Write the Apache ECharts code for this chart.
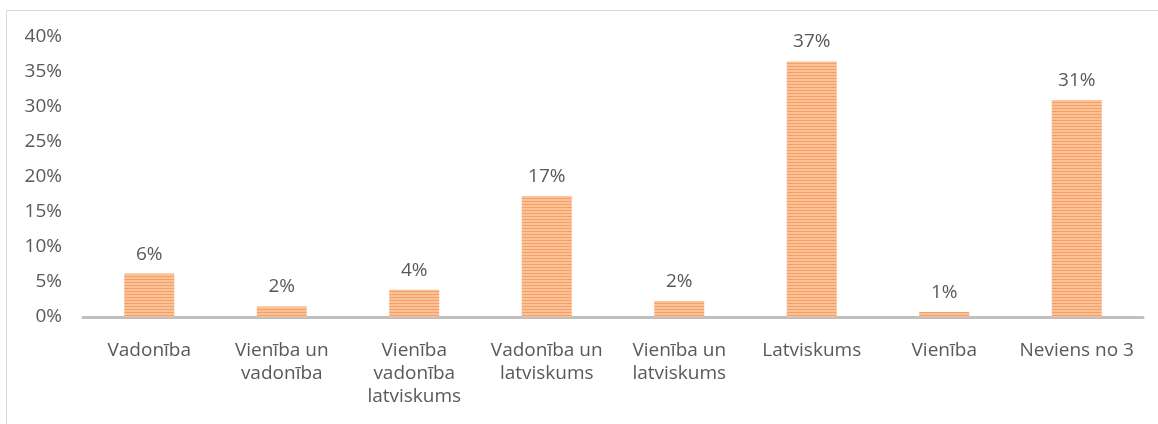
<!DOCTYPE html>
<html>
<head>
<meta charset="utf-8">
<script src="https://cdn.jsdelivr.net/npm/echarts@6/dist/echarts.min.js"></script>
<style>
  html, body { margin: 0; padding: 0; background: #fff; }
  #chart { width: 1158px; height: 424px; }
</style>
</head>
<body>
<div id="chart"></div>
<script>
const categories = [
    'Vadonība',
    'Vienība un\nvadonība',
    'Vienība\nvadonība\nlatviskums',
    'Vadonība un\nlatviskums',
    'Vienība un\nlatviskums',
    'Latviskums',
    'Vienība',
    'Neviens no 3'
];
const values = [6.2, 1.5, 3.9, 17.3, 2.3, 36.5, 0.7, 31.0];
const yTicks = { min: 0, max: 40, interval: 5 };

// striped orange fill like the original bars
function stripePattern() {
    const c = document.createElement('canvas');
    c.width = 4;
    c.height = 3;
    const ctx = c.getContext('2d');
    ctx.fillStyle = '#fbc197';
    ctx.fillRect(0, 0, 4, 3);
    ctx.fillStyle = '#f59f66';
    ctx.fillRect(0, 0, 4, 1);
    return c;
}

window.addEventListener('load', function() {
    const myChart = echarts.init(document.getElementById('chart'));
    const labelFont = { color: '#595959', fontSize: 19, fontFamily: 'Open Sans' };

    const option = {
        animation: false,
        grid: { left: 83, right: 15, top: 37, bottom: 107, containLabel: false },
        graphic: [{
            type: 'rect',
            shape: { x: 6.5, y: 10.5, width: 1300, height: 600 },
            style: { fill: 'none', stroke: '#d9d9d9', lineWidth: 1 },
            silent: true
        }],
        xAxis: {
            type: 'category',
            data: categories,
            axisLine: { show: true, lineStyle: { color: '#bfbfbf', width: 3 } },
            axisTick: { show: false },
            axisLabel: Object.assign({ margin: 22, lineHeight: 23, interval: 0 }, labelFont)
        },
        yAxis: {
            type: 'value',
            min: yTicks.min,
            max: yTicks.max,
            interval: yTicks.interval,
            axisLine: { show: false },
            axisTick: { show: false },
            splitLine: { show: false },
            axisLabel: Object.assign({ margin: 21, formatter: '{value}%' }, labelFont)
        },
        series: [{
            type: 'bar',
            data: values,
            barWidth: 50,
            itemStyle: {
                color: { image: stripePattern(), repeat: 'repeat' }
            },
            label: Object.assign({
                show: true,
                position: 'top',
                distance: 10,
                formatter: p => Math.round(p.value) + '%'
            }, labelFont)
        }]
    };

    myChart.setOption(option);
});
</script>
</body>
</html>
